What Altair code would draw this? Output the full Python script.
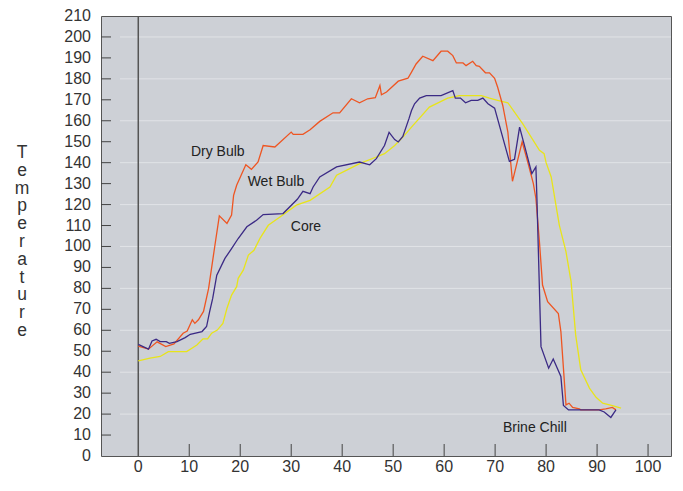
import altair as alt
import pandas as pd

# ---- data ----
dry_t = [0, 2, 3.7, 5.4, 7, 8.8, 9.6, 10.6, 11.1, 11.8, 12.8, 13.8, 15.0, 15.9, 17.4, 18.3, 18.7,
         19.3, 21.1, 22.2, 23.5, 24.5, 26.8, 30, 30.4, 32.3, 33.7, 35.6, 38.2, 39.5, 41.8, 43.4,
         45, 46.5, 47.4, 47.7, 48.7, 51, 52.9, 53.6, 54.5, 55.8, 57.8, 59.4, 60.7, 61.7, 62.4,
         63.7, 64.3, 65.6, 66.3, 66.9, 68.1, 68.9, 69.9, 70.5, 71.5, 72.5, 73.4, 75.3, 76.4, 77.5,
         78, 78.7, 79.3, 80.3, 82.4, 82.9, 83.9, 84.5, 85.2, 86.5, 86.8, 90.4, 91.7, 93, 93.7]
dry_v = [52.4, 51, 54.5, 52.2, 53.5, 58.6, 59.6, 65, 63.3, 65, 69, 80, 100, 114.6, 111, 115, 124.4,
         129.2, 139, 136.8, 140.3, 148.2, 147.5, 154.6, 153.5, 153.5, 155.7, 159.7, 163.8, 163.8, 170.5, 168.6,
         170.5, 171, 176.8, 172.4, 173.7, 178.9, 180.3, 183.2, 187.1, 190.8, 188.7, 193.2, 193.2, 191.1, 187.6,
         187.6, 186.3, 188.4, 186.3, 186, 182.9, 182.9, 180.3, 176, 167.3, 154.6, 131.1, 149.9, 140.3, 130,
         122.9, 102, 81.6, 73.7, 68, 59.4, 24.4, 25.2, 23.2, 22.5, 22, 22, 22.5, 23.2, 22]

wet_t = [0, 2, 2.7, 3.5, 4.3, 5.5, 6.1, 7.6, 9.2, 10.2, 12.5, 13.4, 14, 14.6, 15.4, 17, 18.3, 19.6,
         21.3, 23.2, 24.5, 28.4, 31.2, 32.3, 33.7, 34.3, 35.6, 38.9, 43.4, 45.4, 46.7, 48.3, 49.2,
         50.3, 51, 51.9, 53.1, 53.6, 54.2, 55.2, 56.5, 59.4, 61.7, 62.2, 63.2, 64.2, 65.3, 66.6,
         67.6, 68.6, 69.9, 72.8, 73.8, 74.8, 76.1, 77.2, 78, 78.2, 79, 80.5, 81.4, 82.9, 83.4,
         84.4, 90.4, 91.4, 92.7, 93.7]
wet_v = [53.3, 51, 54.9, 55.7, 54.6, 54.6, 53.8, 54.6, 56.5, 58.1, 59.4, 61.8, 68.9, 75.2, 86.3, 94.3, 99, 103.8,
         109.4, 112.5, 115.2, 115.7, 122.5, 126.3, 125.2, 128.4, 133.2, 138, 140.3, 139, 141.9, 148.2, 154.5,
         151, 149.9, 152.5, 161, 164.9, 168.1, 170.8, 172, 172, 174.4, 170.8, 170.8, 168.6, 169.7, 169.7,
         170.8, 168.1, 166, 140.6, 141.6, 157, 145, 134.8, 138, 122.9, 52.2, 41.9, 46.3, 38, 24.1,
         22, 22, 21, 18.4, 22]

core_t = [0, 2.3, 4.3, 5.9, 9.5, 11.5, 12.7, 13.6, 14.4, 15.5, 16.6, 17.4, 18.3, 19.3, 19.6, 20.6, 21.6,
          22.7, 23.9, 25.5, 27.8, 31, 33.7, 37.6, 38.9, 40.8, 43.4, 46.7, 48.3, 50.3, 51.9, 53.9,
          57.1, 60.7, 63, 67.3, 68.9, 70.5, 72.5, 75.4, 78.7, 79.6, 80, 81, 82.6, 83.9, 84.9, 85.8,
          86.8, 88.5, 89.8, 91.1, 93, 94.7]
core_v = [45.4, 46.7, 47.5, 49.8, 49.8, 53, 55.9, 55.9, 58.6, 60.1, 63.3, 70.5, 76.8, 80.8, 84.8, 88.7, 95.9,
          98.2, 104, 110.1, 114.1, 119.7, 122, 128.4, 134, 136.3, 139.5, 142.7, 144.3, 148.2, 152.2, 157.8,
          166.5, 170.8, 172, 172, 170.8, 169.7, 168.6, 158.6, 145.9, 144.3, 140, 133.2, 110.1, 97.5, 83.2, 57.8,
          41.1, 32.4, 28, 25.2, 24.1, 22.9]

series_names = ["Core", "Dry Bulb", "Wet Bulb"]
series_colors = ["#E8E41A", "#EE5522", "#3B2A85"]

label_text = ["Dry Bulb", "Wet Bulb", "Core", "Brine Chill"]
label_t = [15.6, 27.0, 32.9, 77.8]
label_v = [145.2, 131.0, 109.5, 13.3]

x_ticks = [0, 10, 20, 30, 40, 50, 60, 70, 80, 90, 100]
x_minor = [10, 20, 30, 40, 50, 60, 70, 80, 90, 100]
y_ticks = list(range(0, 211, 10))
y_inner_ticks = list(range(10, 201, 10))
grid_vals = list(range(20, 201, 20))
y_title = "Temperature"

# ---- build tables ----
rows = []
for name, ts, vs in [("Core", core_t, core_v), ("Dry Bulb", dry_t, dry_v), ("Wet Bulb", wet_t, wet_v)]:
    for i, (a, b) in enumerate(zip(ts, vs)):
        rows.append({"series": name, "t": a, "temp": b, "order": i})
df = pd.DataFrame(rows)
df_lbl = pd.DataFrame({"text": label_text, "t": label_t, "temp": label_v})
df_grid = pd.DataFrame({"v": grid_vals})
df_yt = pd.DataFrame({"v": y_inner_ticks})
df_xt = pd.DataFrame({"v": x_minor})
df_zero = pd.DataFrame({"v": [0]})
df_xl = pd.DataFrame({"v": x_ticks, "s": [str(v) for v in x_ticks]})
df_yl = pd.DataFrame({"v": y_ticks, "s": [str(v) for v in y_ticks]})
df_title = pd.DataFrame({"s": ["\n".join(list(y_title))]})

W, H = 570, 440
xscale = alt.Scale(domain=[-7.31, 104.5], nice=False, zero=False)
yscale = alt.Scale(domain=[0, 210], nice=False, zero=False)

FONT = "Liberation Sans"
TXT = "#333333"

grid = alt.Chart(df_grid).mark_rule(color="#E1E3E7", strokeWidth=1).encode(
    y=alt.Y("v:Q", scale=yscale, axis=None), x=alt.value(19), x2=alt.value(W))

yt = alt.Chart(df_yt).mark_rule(color="#444444", strokeWidth=1).encode(
    y=alt.Y("v:Q", scale=yscale, axis=None), x=alt.value(0), x2=alt.value(10))

xt = alt.Chart(df_xt).mark_rule(color="#444444", strokeWidth=1).encode(
    x=alt.X("v:Q", scale=xscale, axis=None), y=alt.value(H - 12), y2=alt.value(H))

zero = alt.Chart(df_zero).mark_rule(color="#555555", strokeWidth=1.5).encode(
    x=alt.X("v:Q", scale=xscale, axis=None), y=alt.value(0), y2=alt.value(H))

lines = alt.Chart(df).mark_line(strokeWidth=1.3).encode(
    x=alt.X("t:Q", scale=xscale, axis=None),
    y=alt.Y("temp:Q", scale=yscale, axis=None),
    color=alt.Color("series:N", scale=alt.Scale(domain=series_names, range=series_colors), legend=None),
    detail="series:N",
    order="order:Q",
)

labels = alt.Chart(df_lbl).mark_text(fontSize=14, color="#222222", font=FONT).encode(
    x=alt.X("t:Q", scale=xscale, axis=None),
    y=alt.Y("temp:Q", scale=yscale, axis=None),
    text="text:N",
)

xlab = alt.Chart(df_xl).mark_text(fontSize=16, color=TXT, font=FONT, baseline="alphabetic",
                                  align="center").encode(
    x=alt.X("v:Q", scale=xscale, axis=None), y=alt.value(H + 16), text="s:N")

ylab = alt.Chart(df_yl).mark_text(fontSize=16, color=TXT, font=FONT, baseline="middle",
                                  align="right").encode(
    y=alt.Y("v:Q", scale=yscale, axis=None), x=alt.value(-10), text="s:N")

title = alt.Chart(df_title).mark_text(fontSize=17.5, color=TXT, font=FONT, baseline="alphabetic",
                                      align="center", lineBreak="\n", lineHeight=17.8).encode(
    x=alt.value(-79), y=alt.value(142), text="s:N")

chart = alt.layer(grid, yt, xt, zero, lines, labels, xlab, ylab, title).properties(
    width=W, height=H,
    autosize=alt.AutoSizeParams(type="none"),
    padding={"left": 93, "top": 8, "right": 4, "bottom": 21},
).configure_view(fill="#CDD0D6", stroke="#555555", strokeWidth=1)

chart.save("out.html", embed_options={"renderer": "svg", "actions": False})
